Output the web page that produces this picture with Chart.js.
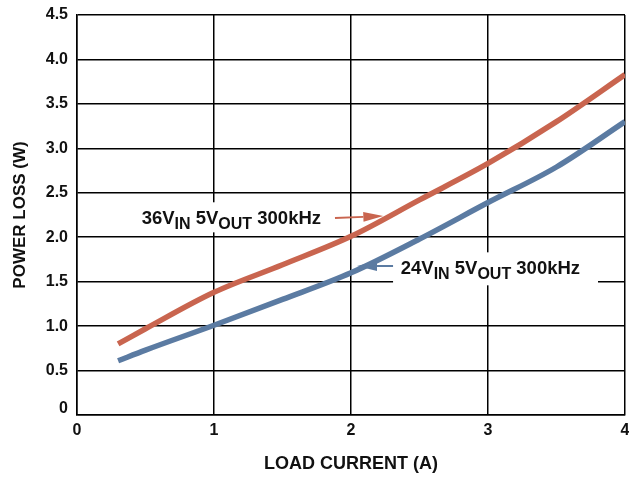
<!DOCTYPE html>
<html>
<head>
<meta charset="utf-8">
<script src="https://cdn.jsdelivr.net/npm/chart.js@4.4.1/dist/chart.umd.min.js"></script>
<style>
  html, body { margin: 0; padding: 0; background: #fff; }
  #wrap { width: 629px; height: 477px; }
</style>
</head>
<body>
<div id="wrap"><canvas id="c" width="629" height="477"></canvas></div>
<script>
// ---- data ----
const loadCurrent = [0.3, 0.5, 1.0, 1.5, 2.0, 2.5, 3.0, 3.5, 4.0];
const loss36V = [0.80, 0.97, 1.38, 1.69, 2.01, 2.42, 2.83, 3.30, 3.83];
const loss24V = [0.61, 0.73, 1.01, 1.30, 1.60, 1.98, 2.39, 2.79, 3.30];
const seriesLabels = ['36V_IN 5V_OUT 300kHz', '24V_IN 5V_OUT 300kHz'];
const xTicks = [0, 1, 2, 3, 4];
const yTicks = [0, 0.5, 1.0, 1.5, 2.0, 2.5, 3.0, 3.5, 4.0, 4.5];

const RED = '#C9654F';
const BLUE = '#5B7BA2';
const FONT = "'Liberation Sans', Arial, sans-serif";

const annotations = [
  {
    parts: [['36V', 0], ['IN', 1], [' 5V', 0], ['OUT', 1], [' 300kHz', 0]],
    textX: 0.472, textY: 2.153,
    box: [0.423, 2.393, 1.847, 2.055],
    arrowFrom: [1.883, 2.216], arrowTo: [2.236, 2.238],
    color: RED
  },
  {
    parts: [['24V', 0], ['IN', 1], [' 5V', 0], ['OUT', 1], [' 300kHz', 0]],
    textX: 2.363, textY: 1.59,
    box: [2.307, 1.83, 3.803, 1.459],
    arrowFrom: [2.307, 1.676], arrowTo: [2.044, 1.675],
    color: BLUE
  }
];

function toPts(xs, ys) { return xs.map((x, i) => ({ x: x, y: ys[i] })); }

const annotationPlugin = {
  id: 'annot',
  beforeDatasetsDraw(chart) {
    const { ctx, scales: { x, y } } = chart;
    ctx.save();
    ctx.fillStyle = '#fff';
    annotations.forEach(a => {
      const x0 = x.getPixelForValue(a.box[0]), y0 = y.getPixelForValue(a.box[1]);
      const x1 = x.getPixelForValue(a.box[2]), y1 = y.getPixelForValue(a.box[3]);
      ctx.fillRect(x0, y0, x1 - x0, y1 - y0);
    });
    ctx.restore();
  },
  afterDatasetsDraw(chart) {
    const { ctx, scales: { x, y } } = chart;
    ctx.save();
    annotations.forEach(a => {
      let px = x.getPixelForValue(a.textX);
      const py = y.getPixelForValue(a.textY);
      ctx.fillStyle = '#111';
      ctx.textBaseline = 'alphabetic';
      ctx.textAlign = 'left';
      a.parts.forEach(([t, sub]) => {
        ctx.font = sub ? `bold 16px ${FONT}` : `bold 18.5px ${FONT}`;
        ctx.fillText(t, px, py + (sub ? 5 : 0));
        px += ctx.measureText(t).width;
      });
      const fx = x.getPixelForValue(a.arrowFrom[0]), fy = y.getPixelForValue(a.arrowFrom[1]);
      const tx = x.getPixelForValue(a.arrowTo[0]), ty = y.getPixelForValue(a.arrowTo[1]);
      const ang = Math.atan2(ty - fy, tx - fx);
      const headLen = 20, headHalf = 5;
      const bx = tx - headLen * Math.cos(ang), by = ty - headLen * Math.sin(ang);
      ctx.strokeStyle = a.color;
      ctx.fillStyle = a.color;
      ctx.lineWidth = 2;
      ctx.beginPath();
      ctx.moveTo(fx, fy);
      ctx.lineTo(bx, by);
      ctx.stroke();
      ctx.beginPath();
      ctx.moveTo(tx, ty);
      ctx.lineTo(bx - headHalf * Math.sin(ang), by + headHalf * Math.cos(ang));
      ctx.lineTo(bx + headHalf * Math.sin(ang), by - headHalf * Math.cos(ang));
      ctx.closePath();
      ctx.fill();
    });
    ctx.restore();
  }
};

new Chart(document.getElementById('c'), {
  type: 'line',
  data: {
    datasets: [
      {
        label: seriesLabels[0],
        data: toPts(loadCurrent, loss36V),
        borderColor: RED,
        borderWidth: 5.5,
        pointRadius: 0,
        cubicInterpolationMode: 'monotone',
        fill: false
      },
      {
        label: seriesLabels[1],
        data: toPts(loadCurrent, loss24V),
        borderColor: BLUE,
        borderWidth: 5.5,
        pointRadius: 0,
        cubicInterpolationMode: 'monotone',
        fill: false
      }
    ]
  },
  options: {
    responsive: false,
    animation: false,
    devicePixelRatio: 1,
    layout: { padding: { top: 15, right: 4, left: 0, bottom: 0 } },
    plugins: {
      legend: { display: false },
      tooltip: { enabled: false }
    },
    scales: {
      x: {
        type: 'linear',
        min: 0, max: 4,
        afterBuildTicks: s => { s.ticks = xTicks.map(v => ({ value: v })); },
        afterFit: s => { s.height = 62; s.paddingLeft = 0; s.paddingRight = 0; },
        grid: { color: '#000', lineWidth: 1.5, drawTicks: false },
        border: { color: '#000', width: 1.5 },
        ticks: {
          color: '#111',
          padding: 6,
          font: { family: FONT, size: 16, weight: 'bold' },
          callback: v => String(v)
        },
        title: {
          display: true,
          text: 'LOAD CURRENT (A)',
          color: '#111',
          font: { family: FONT, size: 18, weight: 'bold' },
          padding: { top: 0, bottom: 2 }
        }
      },
      y: {
        type: 'linear',
        min: 0, max: 4.5,
        afterBuildTicks: s => { s.ticks = yTicks.map(v => ({ value: v })); },
        afterFit: s => { s.width = 77; s.paddingTop = 0; s.paddingBottom = 0; },
        grid: { color: '#000', lineWidth: 1.5, drawTicks: false },
        border: { color: '#000', width: 1.5 },
        ticks: {
          color: '#111',
          padding: 9,
          font: ctx => ({ family: FONT, size: 16, weight: 'bold',
                          lineHeight: (ctx.tick && ctx.tick.value === 0) ? 0.8 : 1.2 }),
          callback: v => v === 0 ? ['0', ''] : v.toFixed(1)
        },
        title: {
          display: true,
          text: 'POWER LOSS (W)',
          color: '#111',
          font: { family: FONT, size: 17, weight: 'bold' },
          padding: { top: 10, bottom: 0 }
        }
      }
    }
  },
  plugins: [annotationPlugin]
});
</script>
</body>
</html>
